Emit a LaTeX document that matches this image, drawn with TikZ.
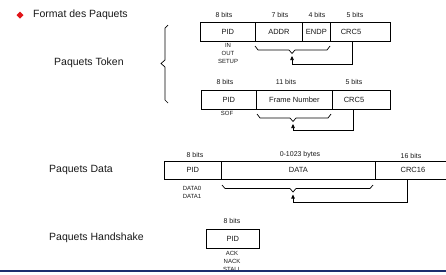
\documentclass[tikz,border=0pt]{standalone}
\usepackage{fontspec}
\setmainfont{Liberation Sans}
\usetikzlibrary{arrows.meta}
\definecolor{bulletred}{RGB}{225,20,25}
\definecolor{navyline}{RGB}{30,45,110}
\definecolor{ink}{RGB}{25,25,25}
\begin{document}
\begin{tikzpicture}[x=1pt,y=-1pt,
  cell/.style={draw=black, line width=0.8pt, inner sep=0pt, anchor=north west,
               minimum height=19pt, text=ink, font=\fontsize{7.5}{8}\selectfont},
  fld/.style={inner sep=0pt, text=ink, font=\fontsize{7.5}{8}\selectfont},
  bits/.style={inner sep=0pt, text=ink, font=\fontsize{7}{8}\selectfont},
  sub/.style={inner sep=0pt, text=ink, font=\fontsize{6}{7}\selectfont},
  lbl/.style={inner sep=0pt, anchor=west, text=ink, font=\fontsize{10.5}{12}\selectfont},
  brc/.style={line width=0.7pt},
  arr/.style={line width=0.7pt, -{Triangle[length=4pt,width=3.5pt]}},
]
\fill[white] (0,0) rectangle (446,274);
\clip (0,0) rectangle (446,274);

% title
\fill[bulletred] (20,11.5) -- (23.5,15) -- (20,18.5) -- (16.5,15) -- cycle;
\node[lbl] (title) at (33,15) {Format des Paquets};

% labels on the left
\node[lbl] (ltoken) at (54,63) {Paquets Token};
\node[lbl] (ldata) at (49,170) {Paquets Data};
\node[lbl] (lhand) at (49,238) {Paquets Handshake};

% big brace
\draw[brc] (168,25) -- (165,28) -- (165,60) -- (161,63.5) -- (165,67) -- (165,100) -- (168,103);

% ---------- token packet 1
\node[cell, minimum width=55pt] (a1) at (200,22) {PID};
\node[cell, minimum width=47pt] (a2) at (255,22) {ADDR};
\node[cell, minimum width=28pt] (a3) at (302,22) {ENDP};
\node[cell, minimum width=60pt] (a4) at (330,22) {};
\node[fld] (a4t) at (351,31.5) {CRC5};
\node[bits] (a1b) at (224,15) {8 bits};
\node[bits] (a2b) at (280,15) {7 bits};
\node[bits] (a3b) at (317,15) {4 bits};
\node[bits] (a4b) at (355,15) {5 bits};
\node[sub] (s1) at (228,45) {IN};
\node[sub] (s2) at (228,53) {OUT};
\node[sub] (s3) at (228,61) {SETUP};
\draw[brc] (255,46) -- (258,50) -- (289,50) -- (292,53.5) coordinate (b1) -- (295,50) -- (327,50) -- (330,46);
\draw[arr] ([xshift=-8pt]a4.south) -- ++(0,23) -| ([yshift=-2.5pt]b1);

% ---------- token packet 2
\node[cell, minimum width=55pt] (c1) at (201,90) {PID};
\node[cell, minimum width=76pt] (c2) at (256,90) {Frame Number};
\node[cell, minimum width=58pt] (c3) at (332,90) {};
\node[fld] (c3t) at (354,99.5) {CRC5};
\node[bits] (c1b) at (225,82) {8 bits};
\node[bits] (c2b) at (286,82) {11 bits};
\node[bits] (c3b) at (354,82) {5 bits};
\node[sub] (sof) at (227,113) {SOF};
\draw[brc] (257,114) -- (260,118) -- (290,118) -- (293,121.5) coordinate (b2) -- (296,118) -- (328,118) -- (331,114);
\draw[arr] ([xshift=-8pt]c3.south) -- ++(0,21) -| ([yshift=-2.5pt]b2);

% ---------- data packet
\node[cell, minimum width=57pt, minimum height=18pt] (d1) at (164,161) {PID};
\node[cell, minimum width=154pt, minimum height=18pt] (d2) at (221,161) {DATA};
\node[cell, minimum width=75pt, minimum height=18pt] (d3) at (375,161) {CRC16};
\node[bits] (d1b) at (195,155) {8 bits};
\node[bits] (d2b) at (300,155) {0-1023 bytes};
\node[bits] (d3b) at (411,156) {16 bits};
\node[sub] (dd0) at (192,188) {DATA0};
\node[sub] (dd1) at (192,196) {DATA1};
\draw[brc] (222,185) -- (225,188.5) -- (290,188.5) -- (293,192) coordinate (b3) -- (296,188.5) -- (370,188.5) -- (373,185);
\draw[arr] ([xshift=-5.5pt]d3.south) -- ++(0,23) -| ([yshift=-2.5pt]b3);

% ---------- handshake packet
\node[cell, minimum width=53pt] (h1) at (206,229) {PID};
\node[bits] (h1b) at (232,221) {8 bits};
\node[sub] (ack) at (232,253) {ACK};
\node[sub] (nack) at (232,261) {NACK};
\node[sub] (stall) at (232,269) {STALL};

% bottom rule
\draw[navyline, line width=2pt] (0,271) -- (446,271);
\end{tikzpicture}
\end{document}
